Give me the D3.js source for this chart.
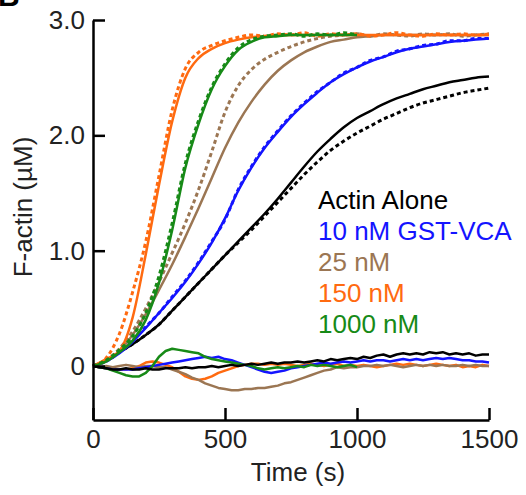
<!DOCTYPE html>
<html>
<head>
<meta charset="utf-8">
<script src="https://cdn.jsdelivr.net/npm/d3@7"></script>
<style>
  html, body { margin: 0; padding: 0; background: #fff; }
  svg { display: block; font-family: "Liberation Sans", Arial, sans-serif; }
</style>
</head>
<body>
<svg id="chart"></svg>
<script>
// sample times (s)
const tCurve = d3.range(0, 1501, 50);
const tResid = d3.range(0, 1501, 25);

// polymerization curves: fits (solid) and data (dashed), F-actin in uM
const blackFit = [0.00, 0.05, 0.12, 0.19, 0.27, 0.36, 0.48, 0.60, 0.72, 0.84, 0.96, 1.08, 1.20, 1.32, 1.45, 1.59,
  1.73, 1.86, 1.97, 2.07, 2.15, 2.21, 2.27, 2.32, 2.36, 2.40, 2.43, 2.46, 2.48, 2.50, 2.51];
const blackData = [0.00, 0.05, 0.12, 0.19, 0.27, 0.36, 0.48, 0.60, 0.72, 0.84, 0.96, 1.07, 1.18, 1.30, 1.42, 1.54,
  1.66, 1.77, 1.87, 1.95, 2.02, 2.08, 2.14, 2.19, 2.24, 2.28, 2.31, 2.34, 2.37, 2.39, 2.41];
const blueFit = [0.00, 0.04, 0.11, 0.21, 0.33, 0.46, 0.59, 0.73, 0.89, 1.07, 1.28, 1.52, 1.72, 1.89, 2.03, 2.16,
  2.27, 2.37, 2.46, 2.53, 2.59, 2.64, 2.68, 2.72, 2.75, 2.77, 2.79, 2.81, 2.82, 2.83, 2.84];
const blueData = [0.00, 0.04, 0.12, 0.22, 0.34, 0.46, 0.60, 0.74, 0.90, 1.08, 1.27, 1.53, 1.73, 1.90, 2.04, 2.17,
  2.28, 2.38, 2.46, 2.54, 2.59, 2.65, 2.68, 2.73, 2.75, 2.78, 2.79, 2.82, 2.82, 2.84, 2.84];
const brownFit = [0.00, 0.04, 0.13, 0.27, 0.45, 0.66, 0.88, 1.12, 1.37, 1.63, 1.89, 2.11, 2.29, 2.44, 2.56, 2.65,
  2.72, 2.77, 2.81, 2.83, 2.85, 2.86, 2.87, 2.87, 2.87, 2.87, 2.87, 2.87, 2.87, 2.87, 2.87];
const brownData = [0.00, 0.05, 0.15, 0.30, 0.50, 0.73, 0.98, 1.24, 1.53, 1.86, 2.20, 2.43, 2.57, 2.66, 2.72, 2.77,
  2.81, 2.84, 2.86, 2.87, 2.88, 2.86, 2.88, 2.87, 2.86, 2.88, 2.87, 2.88, 2.86, 2.87, 2.88];
const orangeFit = [0.00, 0.06, 0.13, 0.42, 0.97, 1.57, 2.12, 2.50, 2.67, 2.75, 2.80, 2.83, 2.85, 2.86, 2.87, 2.87,
  2.87, 2.87, 2.87, 2.87, 2.87, 2.87, 2.87, 2.87, 2.87, 2.87, 2.87, 2.87, 2.87, 2.87, 2.87];
const orangeData = [0.00, 0.07, 0.28, 0.64, 1.08, 1.65, 2.22, 2.58, 2.72, 2.78, 2.82, 2.85, 2.87, 2.86, 2.88, 2.87,
  2.89, 2.86, 2.88, 2.87, 2.88, 2.86, 2.87, 2.89, 2.87, 2.86, 2.88, 2.87, 2.88, 2.87, 2.88];
const greenFit = [0.00, 0.04, 0.12, 0.22, 0.40, 0.72, 1.18, 1.72, 2.10, 2.40, 2.60, 2.74, 2.81, 2.85, 2.86, 2.87,
  2.87, 2.87, 2.87, 2.87, 2.87];
const greenData = [0.00, 0.05, 0.14, 0.26, 0.46, 0.78, 1.24, 1.76, 2.13, 2.42, 2.62, 2.76, 2.83, 2.86, 2.87, 2.88,
  2.86, 2.88, 2.87, 2.89, 2.87];

// residuals (data - fit), uM
const blackResid = [0.00, -0.01, -0.02, -0.03, -0.03, -0.02, -0.03, -0.03, -0.02, -0.03, -0.03, -0.02, -0.02, -0.02,
  -0.01, -0.02, -0.01, -0.01, 0.00, -0.01, 0.00, 0.01, 0.00, 0.01, 0.02, 0.01, 0.02, 0.03, 0.02, 0.03, 0.03, 0.04,
  0.03, 0.04, 0.05, 0.04, 0.06, 0.05, 0.06, 0.07, 0.06, 0.08, 0.07, 0.09, 0.10, 0.08, 0.10, 0.11, 0.10, 0.11,
  0.10, 0.12, 0.11, 0.12, 0.10, 0.11, 0.10, 0.11, 0.09, 0.10, 0.10];
const blueResid = [0.00, -0.01, -0.02, -0.03, -0.03, -0.03, -0.03, -0.02, -0.01, 0.00, 0.01, 0.02, 0.03, 0.04,
  0.05, 0.06, 0.07, 0.08, 0.07, 0.08, 0.06, 0.05, 0.03, 0.01, -0.01, -0.03, -0.05, -0.06, -0.05, -0.04, -0.02,
  -0.01, 0.00, 0.01, 0.02, 0.03, 0.02, 0.03, 0.04, 0.03, 0.04, 0.05, 0.04, 0.05, 0.05, 0.04, 0.05, 0.06, 0.05,
  0.06, 0.05, 0.06, 0.07, 0.06, 0.07, 0.06, 0.05, 0.05, 0.04, 0.04, 0.03];
const brownResid = [0.00, -0.01, 0.00, -0.01, 0.00, 0.01, 0.00, -0.01, 0.00, 0.00, -0.01, -0.01, -0.03, -0.05,
  -0.07, -0.10, -0.12, -0.15, -0.17, -0.19, -0.20, -0.21, -0.21, -0.20, -0.20, -0.19, -0.19, -0.18, -0.17, -0.15,
  -0.14, -0.12, -0.10, -0.08, -0.06, -0.04, -0.03, -0.01, -0.02, -0.01, -0.01, 0.00, 0.00, 0.01, 0.00, 0.01,
  0.00, -0.01, 0.00, 0.01, 0.00, 0.01, 0.00, 0.01, 0.00, 0.00, 0.01, 0.00, 0.01, 0.00, 0.00];
const orangeResid = [0.00, -0.01, -0.02, -0.03, -0.03, -0.03, -0.02, 0.00, 0.03, 0.04, 0.03, 0.01, -0.01, -0.05,
  -0.09, -0.11, -0.12, -0.11, -0.09, -0.06, -0.04, -0.02, 0.00, 0.01, 0.02, 0.02, 0.01, 0.02, 0.01, 0.02, 0.01,
  0.00, 0.01, 0.02, 0.01, 0.00, 0.01, 0.02, 0.00, 0.01, 0.00, 0.01, 0.00, -0.01, 0.00, 0.01, 0.02, 0.01, 0.02,
  0.01, 0.00, 0.01, 0.02, 0.01, 0.00, 0.01, -0.01, 0.00, -0.01, 0.01, 0.00];
const greenResid = [0.00, -0.01, -0.02, -0.04, -0.06, -0.08, -0.09, -0.09, -0.06, 0.00, 0.08, 0.13, 0.15, 0.14,
  0.13, 0.12, 0.11, 0.08, 0.06, 0.05, 0.04, 0.03, 0.02, 0.01, 0.00, -0.02, -0.03, -0.02, -0.01, -0.02, -0.01,
  0.00, -0.01, 0.01, 0.00, 0.01, 0.00, -0.01, 0.00, 0.01, -0.01];

const seriesNames = ["Actin Alone", "10 nM GST-VCA", "25 nM", "150 nM", "1000 nM"];
const seriesColors = ["#000000", "#1414ff", "#9b7653", "#ff6a10", "#178a17"];

const xTicks = [0, 500, 1000, 1500];
const yTicks = [0, 1, 2, 3];
const yTickLabels = ["0", "1.0", "2.0", "3.0"];

const width = 526;
const height = 495;

const svg = d3.select("#chart").attr("width", width).attr("height", height);

const x = d3.scaleLinear().domain([0, 1500]).range([93, 489]);
const y = d3.scaleLinear().domain([-0.468, 3]).range([420, 20]);

const line = (times) => d3.line()
  .x((d, i) => x(times[i]))
  .y(d => y(d))
  .curve(d3.curveMonotoneX);

// residuals near zero
const resid = [
  [orangeResid, 3],
  [brownResid, 2],
  [blueResid, 1],
  [greenResid, 4],
  [blackResid, 0],
];
resid.forEach(([vals, k]) => {
  svg.append("path")
    .attr("d", d3.line().x((d, i) => x(tResid[i])).y(d => y(d))(vals))
    .attr("fill", "none")
    .attr("stroke", seriesColors[k])
    .attr("stroke-width", 2.5)
    .attr("stroke-linejoin", "round");
});

// curves: data dashed, fit solid
const curves = [
  [blackData, blackFit, 0],
  [blueData, blueFit, 1],
  [brownData, brownFit, 2],
  [orangeData, orangeFit, 3],
  [greenData, greenFit, 4],
];
curves.forEach(([data, fit, k]) => {
  svg.append("path")
    .attr("d", line(tCurve)(data))
    .attr("fill", "none")
    .attr("stroke", seriesColors[k])
    .attr("stroke-width", 3)
    .attr("stroke-dasharray", "4,3");
  svg.append("path")
    .attr("d", line(tCurve)(fit))
    .attr("fill", "none")
    .attr("stroke", seriesColors[k])
    .attr("stroke-width", 2.5);
});

// Y Axis
const yAxis = svg.append("g")
  .attr("transform", `translate(${x(0)},0)`)
  .call(d3.axisLeft(y).tickValues(yTicks).tickFormat((d, i) => yTickLabels[i])
    .tickSizeInner(-12).tickSizeOuter(0).tickPadding(8));
yAxis.select(".domain").attr("stroke-width", 2.5);
yAxis.selectAll(".tick line").attr("stroke-width", 2.5);
yAxis.selectAll("text").attr("font-size", "26px").attr("fill", "#222")
  .attr("font-family", "Liberation Sans, Arial, sans-serif");

// X Axis
const xAxis = svg.append("g")
  .attr("transform", `translate(0,${y.range()[0]})`)
  .call(d3.axisBottom(x).tickValues(xTicks).tickFormat(d3.format("d"))
    .tickSizeInner(-12).tickSizeOuter(0).tickPadding(10));
xAxis.select(".domain").attr("stroke-width", 2.5);
xAxis.selectAll(".tick line").attr("stroke-width", 2.5);
xAxis.selectAll("text").attr("font-size", "26px").attr("fill", "#222")
  .attr("font-family", "Liberation Sans, Arial, sans-serif");

// Labels
svg.append("text")
  .attr("x", 298)
  .attr("y", 481)
  .attr("text-anchor", "middle")
  .attr("font-size", "26px")
  .attr("fill", "#222")
  .text("Time (s)");

svg.append("text")
  .attr("transform", "translate(32,207) rotate(-90)")
  .attr("text-anchor", "middle")
  .attr("font-size", "26px")
  .attr("fill", "#222")
  .text("F-actin (µM)");

// panel letter, cut at the top as in the source figure
svg.append("text")
  .attr("x", -2)
  .attr("y", 6)
  .attr("font-size", "30px")
  .attr("font-weight", "bold")
  .text("B");

// Legend
svg.selectAll(".legend")
  .data(seriesNames)
  .enter()
  .append("text")
  .attr("class", "legend")
  .attr("x", 318)
  .attr("y", (d, i) => 209 + i * 31)
  .attr("font-size", "26px")
  .attr("fill", (d, i) => seriesColors[i])
  .text(d => d);
</script>
</body>
</html>
